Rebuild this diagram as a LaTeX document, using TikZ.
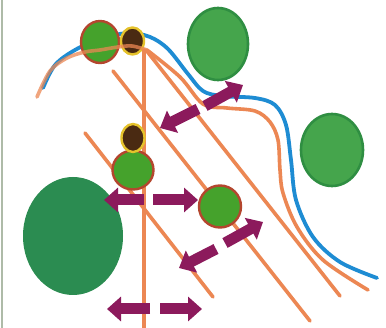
\documentclass[tikz,border=0pt]{standalone}
\usetikzlibrary{arrows.meta}
\definecolor{cOrange}{HTML}{EC8753}
\definecolor{cBlue}{HTML}{1E8CD3}
\definecolor{cPurple}{HTML}{8C1A5C}
\definecolor{cGreen}{HTML}{45A22C}
\definecolor{cRim}{HTML}{B4462E}
\definecolor{cDark}{HTML}{4A2A12}
\definecolor{cYellow}{HTML}{E5C22B}
\definecolor{cBlob}{HTML}{45A54C}
\definecolor{cBlobRim}{HTML}{2F8E42}
\definecolor{cBig}{HTML}{2B8C51}
\definecolor{cEdge}{HTML}{AEBBA8}
\tikzset{
  road/.style={draw=cOrange, line width=3.6pt, line cap=round},
  river/.style={draw=cBlue, line width=3.8pt, line cap=round},
  greendot/.style={fill=cGreen, draw=cRim, line width=2.4pt},
  darkdot/.style={fill=cDark, draw=cYellow, line width=2.4pt},
  blob/.style={fill=cBlob, draw=cBlobRim, line width=2.6pt},
  bigblob/.style={fill=cBig},
  flow/.style={draw=cPurple, line width=11pt, -{Triangle[width=24pt,length=14pt]}},
}
\begin{document}
\begin{tikzpicture}[x=1pt,y=-1pt]
\useasboundingbox[fill=white] (0,0) rectangle (386,328);
\draw[cEdge, line width=2pt] (1.5,0) -- (1.5,328);

% blue river
\draw[river] plot[smooth, tension=0.55] coordinates {(43,88) (55,65) (75,50) (100,39) (128,33) (150,37) (168,49) (188,74) (203,91) (222,96) (255,98) (275,105) (286,125) (291,160) (296,200) (313,237) (340,262) (377,278)};

% straight roads
\coordinate (vtop) at (144,50);
\coordinate (vbot) at (144,328);
\coordinate (d1a) at (113,71);
\coordinate (d1b) at (310,321);
\coordinate (d2a) at (146,50);
\coordinate (d2b) at (340,296);
\coordinate (d4a) at (85,133);
\coordinate (d4b) at (213,297);
\draw[road] (vtop) -- (vbot);
\draw[road] (d1a) -- (d1b);
\draw[road] (d2a) -- (d2b);
\draw[road] (d4a) -- (d4b);

% curved road
\draw[road] plot[smooth, tension=0.55] coordinates {(147,50) (180,77) (203,104) (227,108) (255,111) (270,122) (278,140) (280,170) (283,193) (297,227) (323,260) (368,290)};

% big green areas
\fill[bigblob] (73,236) ellipse [x radius=50pt, y radius=59pt];
\path[blob] (218,44) ellipse [x radius=30pt, y radius=36pt];
\path[blob] (332,150) ellipse [x radius=31pt, y radius=36pt];

% circles
\path[greendot] (100,42) ellipse [x radius=19pt, y radius=21pt];
\path[darkdot] (132.5,41) ellipse [x radius=11.5pt, y radius=13.5pt];
\path[greendot] (133,170) ellipse [x radius=20.5pt, y radius=19.5pt];
\path[darkdot] (133,138) ellipse [x radius=11.5pt, y radius=14pt];
\path[greendot] (220,206.5) circle [radius=21pt];

% curved road over the top circles
\draw[road, opacity=0.75] plot[smooth, tension=0.55] coordinates {(37,97) (50,71) (67,58) (85,52) (100,50) (118,47) (132,46) (147,50)};

% purple flows
\coordinate (a1s) at (205,106);
\coordinate (a1e) at (243,85);
\coordinate (a2s) at (198,109);
\coordinate (a2e) at (160,128);
\coordinate (b1s) at (144,200);
\coordinate (b1e) at (104,200);
\coordinate (b2s) at (153,200);
\coordinate (b2e) at (198,200);
\coordinate (c1s) at (225,243);
\coordinate (c1e) at (263,222);
\coordinate (c2s) at (216,249);
\coordinate (c2e) at (179,268);
\coordinate (e1s) at (150,309);
\coordinate (e1e) at (107,309);
\coordinate (e2s) at (160,309);
\coordinate (e2e) at (202,309);
\draw[flow] (a1s) -- (a1e);
\draw[flow] (a2s) -- (a2e);
\draw[flow] (b1s) -- (b1e);
\draw[flow] (b2s) -- (b2e);
\draw[flow] (c1s) -- (c1e);
\draw[flow] (c2s) -- (c2e);
\draw[flow] (e1s) -- (e1e);
\draw[flow] (e2s) -- (e2e);
\end{tikzpicture}
\end{document}
